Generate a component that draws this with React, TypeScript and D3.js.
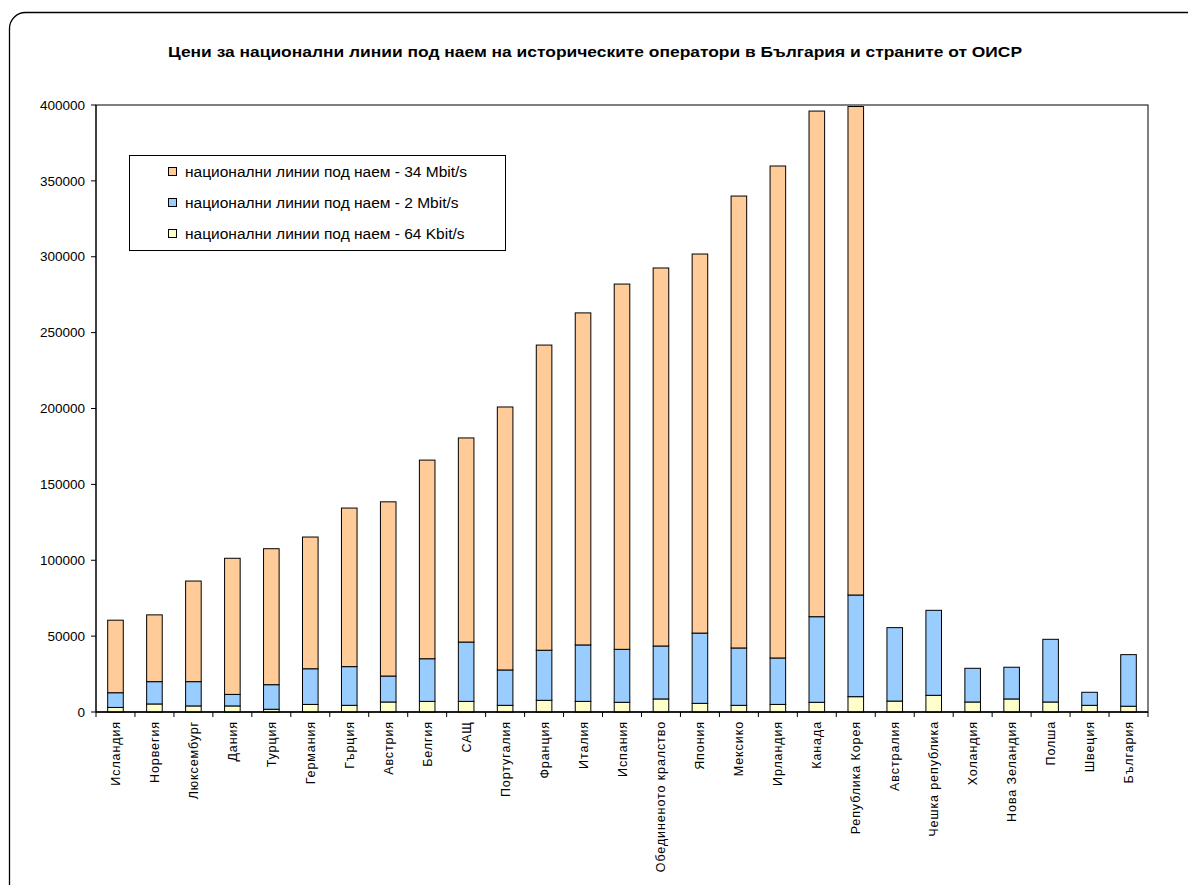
import React, { useEffect, useRef } from "react";
import * as d3 from "d3";

const title = "Цени за национални линии под наем на историческите оператори в България и страните от ОИСР";

const countries = [
  "Исландия", "Норвегия", "Люксембург", "Дания", "Турция", "Германия", "Гърция",
  "Австрия", "Белгия", "САЩ", "Португалия", "Франция", "Италия", "Испания",
  "Обединеното кралство", "Япония", "Мексико", "Ирландия", "Канада",
  "Република Корея", "Австралия", "Чешка република", "Холандия", "Нова Зеландия",
  "Полша", "Швеция", "България",
];

// 64 Kbit/s segment
const kbit64 = [
  3000, 5300, 4000, 4000, 1800, 5000, 4400, 6600, 7000, 7000, 4400, 7700, 7000, 6400,
  8600, 5700, 4400, 5000, 6400, 10100, 7200, 11000, 6600, 8600, 6600, 4400, 3800,
];
// 2 Mbit/s segment
const mbit2 = [
  9700, 14700, 16000, 7600, 16200, 23500, 25500, 17100, 28100, 39100, 23300, 33000, 37200, 34900,
  34900, 46300, 37800, 30600, 56400, 67000, 48400, 56000, 22200, 20900, 41300, 8600, 34000,
];
// 34 Mbit/s segment
const mbit34 = [
  47800, 44000, 66300, 89700, 89600, 86800, 104500, 114800, 130900, 134500, 173300, 201100, 218800, 240700,
  249100, 249800, 297800, 324200, 333200, 321900, 0, 0, 0, 0, 0, 0, 0,
];

const seriesNames = [
  "национални линии под наем - 64 Kbit/s",
  "национални линии под наем - 2 Mbit/s",
  "национални линии под наем - 34 Mbit/s",
];
const seriesColors = ["#FFFFCC", "#99CCFF", "#FFCC99"];
const yTicks = [0, 50000, 100000, 150000, 200000, 250000, 300000, 350000, 400000];

export default function App() {
  const ref = useRef<SVGSVGElement>(null);

  useEffect(() => {
    const svg = d3.select(ref.current);
    svg.selectAll("*").remove();
    const W = 1188, H = 885;
    const left = 96, right = 1148, top = 105, bottom = 712;
    const font = "Arial, 'Liberation Sans', sans-serif";

    svg.append("rect").attr("x", 0).attr("y", 0).attr("width", W).attr("height", H).attr("fill", "#fff");
    svg.append("rect")
      .attr("x", 9.5).attr("y", 12.5).attr("width", 1220).attr("height", 900)
      .attr("rx", 16).attr("ry", 16)
      .attr("fill", "none").attr("stroke", "#000").attr("stroke-width", 1.3);

    svg.append("text")
      .attr("x", 168).attr("y", 57)
      .attr("font-family", font).attr("font-weight", "bold").attr("font-size", 15)
      .attr("textLength", 854).attr("lengthAdjust", "spacingAndGlyphs")
      .text(title);

    const x = d3.scaleBand<string>().domain(countries).range([left, right]).paddingInner(0.6).paddingOuter(0.3);
    const band = (right - left) / countries.length;
    const y = d3.scaleLinear().domain([0, 400000]).range([bottom, top]);

    const rows = countries.map((c, i) => ({ c, a: kbit64[i], b: mbit2[i], d: mbit34[i] }));
    const stack = d3.stack<any>().keys(["a", "b", "d"]);
    const stacked = stack(rows);

    // plot frame
    svg.append("rect").attr("x", left).attr("y", top).attr("width", right - left).attr("height", bottom - top)
      .attr("fill", "none").attr("stroke", "#000").attr("stroke-width", 1);

    stacked.forEach((s, si) => {
      svg.append("g").selectAll("rect").data(s).join("rect")
        .filter((d: any) => d[1] - d[0] > 0)
        .attr("x", (d: any) => x(d.data.c)!)
        .attr("width", x.bandwidth())
        .attr("y", (d: any) => y(d[1]))
        .attr("height", (d: any) => y(d[0]) - y(d[1]))
        .attr("fill", seriesColors[si])
        .attr("stroke", "#000").attr("stroke-width", 1);
    });

    // y axis
    const ya = svg.append("g");
    ya.append("line").attr("x1", left).attr("x2", left).attr("y1", top).attr("y2", bottom).attr("stroke", "#000");
    yTicks.forEach((t) => {
      ya.append("line").attr("x1", left - 5).attr("x2", left).attr("y1", y(t)).attr("y2", y(t)).attr("stroke", "#000");
      ya.append("text").attr("x", left - 11).attr("y", y(t)).attr("dy", "0.35em")
        .attr("text-anchor", "end").attr("font-family", font).attr("font-size", 13.5).text(String(t));
    });

    // x axis
    const xa = svg.append("g");
    xa.append("line").attr("x1", left).attr("x2", right).attr("y1", bottom).attr("y2", bottom).attr("stroke", "#000").attr("stroke-width", 1.3);
    for (let i = 0; i <= countries.length; i++) {
      const tx = left + i * band;
      xa.append("line").attr("x1", tx).attr("x2", tx).attr("y1", bottom).attr("y2", bottom + 5).attr("stroke", "#000");
    }
    countries.forEach((c) => {
      const cx = x(c)! + x.bandwidth() / 2;
      xa.append("text")
        .attr("transform", `translate(${cx + 4.5},${bottom + 9}) rotate(-90)`)
        .attr("text-anchor", "end")
        .attr("font-family", font).attr("font-size", 12.5).attr("letter-spacing", 0.9)
        .text(c);
    });

    // legend
    const lg = svg.append("g");
    lg.append("rect").attr("x", 129.5).attr("y", 155.5).attr("width", 376).attr("height", 95)
      .attr("fill", "#fff").attr("stroke", "#000");
    const order = [2, 1, 0];
    const ly = [172, 203, 234];
    order.forEach((si, k) => {
      lg.append("rect").attr("x", 168.5).attr("y", ly[k] - 4.5).attr("width", 8).attr("height", 8)
        .attr("fill", seriesColors[si]).attr("stroke", "#000");
      lg.append("text").attr("x", 185).attr("y", ly[k]).attr("dy", "0.35em")
        .attr("font-family", font).attr("font-size", 15.5).text(seriesNames[si]);
    });
  }, []);

  return (
    <svg ref={ref} width={1188} height={885} style={{ position: "absolute", left: 0, top: 0 }} />
  );
}
